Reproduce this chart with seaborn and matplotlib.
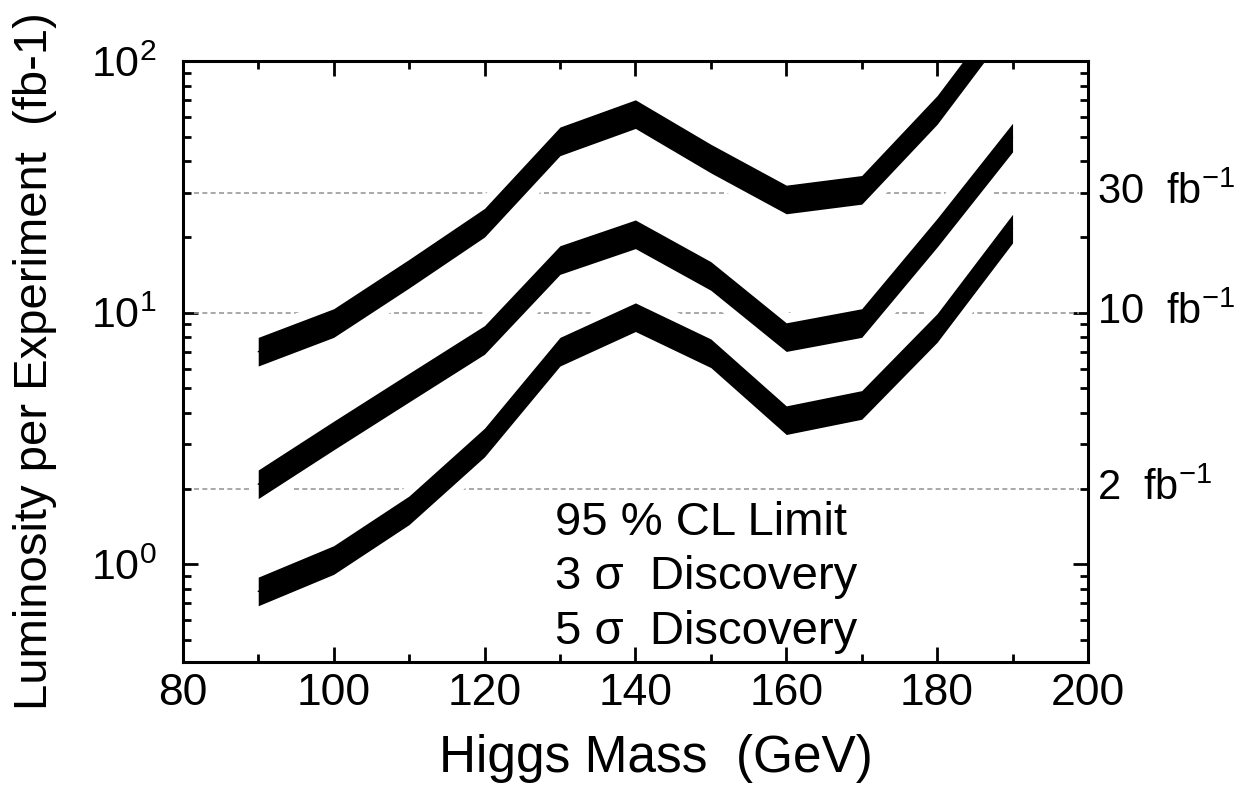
import numpy as np
import pandas as pd
import seaborn as sns
import matplotlib.pyplot as plt
from matplotlib.ticker import MultipleLocator, LogLocator, NullFormatter

# Higgs mass points (GeV)
mass = [90, 100, 110, 120, 130, 140, 150, 160, 170, 180, 190]

# luminosity needed per experiment (fb-1), centre of each band
lumi_5sigma = [7.0, 9.1, 14.3, 22.8, 48, 61.6, 41, 28.2, 30.8, 64, 160]
lumi_3sigma = [2.08, 3.25, 5.04, 7.8, 16.2, 20.5, 14, 8.0, 9.1, 20.8, 49.7]
lumi_95cl = [0.78, 1.04, 1.64, 3.05, 7.0, 9.6, 6.9, 3.74, 4.3, 8.7, 21.6]
band_factor = 1.14  # half width of the bands (multiplicative)

ref_lumi = [30, 10, 2]
ref_labels = ['30  fb$^{-1}$', '10  fb$^{-1}$', '2  fb$^{-1}$']
legend_lines = ['95 % CL Limit', '3 σ  Discovery', '5 σ  Discovery']

sns.set_theme(style='ticks')
plt.rcParams['font.family'] = ['Liberation Sans', 'DejaVu Sans']
plt.rcParams['mathtext.default'] = 'regular'
for key in ['text.color', 'axes.labelcolor', 'xtick.color', 'ytick.color']:
    plt.rcParams[key] = 'black'

curves = {'5 sigma': lumi_5sigma, '3 sigma': lumi_3sigma, '95 CL': lumi_95cl}
df = pd.concat([pd.DataFrame({'mass': mass, 'lumi': v, 'curve': k}) for k, v in curves.items()])

fig = plt.figure(figsize=(12.52, 8.05), dpi=100)
ax = fig.add_axes([0.146, 0.178, 0.723, 0.746])
ax.set_yscale('log')

# reference luminosity lines
for v in ref_lumi:
    ax.axhline(v, xmin=0.012, xmax=0.99, color='#9a9a9a', lw=1.2, ls=(0, (3, 2)), zorder=1)

# bands: white halo first so the dashed lines break around them
for k, v in curves.items():
    v = np.array(v)
    ax.fill_between(mass, v / band_factor, v * band_factor, color='white', edgecolor='white', lw=14, zorder=2)
    ax.fill_between(mass, v / band_factor, v * band_factor, color='black', lw=0, zorder=3)

sns.lineplot(data=df, x='mass', y='lumi', hue='curve', palette=['black'] * 3,
             legend=False, lw=1, ax=ax, zorder=4)

ax.set_xlim(80, 200)
ax.set_ylim(0.41, 100)
ax.set_xticks(range(80, 201, 20))
ax.xaxis.set_minor_locator(MultipleLocator(10))
ax.yaxis.set_major_locator(LogLocator(base=10))
ax.yaxis.set_minor_locator(LogLocator(base=10, subs=range(2, 10)))
ax.yaxis.set_minor_formatter(NullFormatter())

ax.tick_params(which='both', direction='in', top=True, right=True, width=2, color='black')
ax.tick_params(which='major', length=11)
ax.tick_params(which='minor', length=5.5)
ax.tick_params(axis='x', labelsize=32, pad=8)
ax.tick_params(axis='y', labelsize=31, pad=19)
for s in ax.spines.values():
    s.set_linewidth(2.2)
    s.set_color('black')

ax.set_xlabel('Higgs Mass  (GeV)', fontsize=37)
ax.set_ylabel('Luminosity per Experiment  (fb-1)', fontsize=34)
ax.xaxis.set_label_coords(0.523, -0.12)
ax.yaxis.set_label_coords(-0.139, 0.5)

for v, lab in zip(ref_lumi, ref_labels):
    ax.text(1.01, v, lab, transform=ax.get_yaxis_transform(), fontsize=30,
            ha='left', va='center', clip_on=False)

for i, t in enumerate(legend_lines):
    ax.text(0.411, 0.231 - i * 0.0905, t, transform=ax.transAxes, fontsize=34,
            ha='left', va='center')

plt.savefig('out.png', dpi=100)
